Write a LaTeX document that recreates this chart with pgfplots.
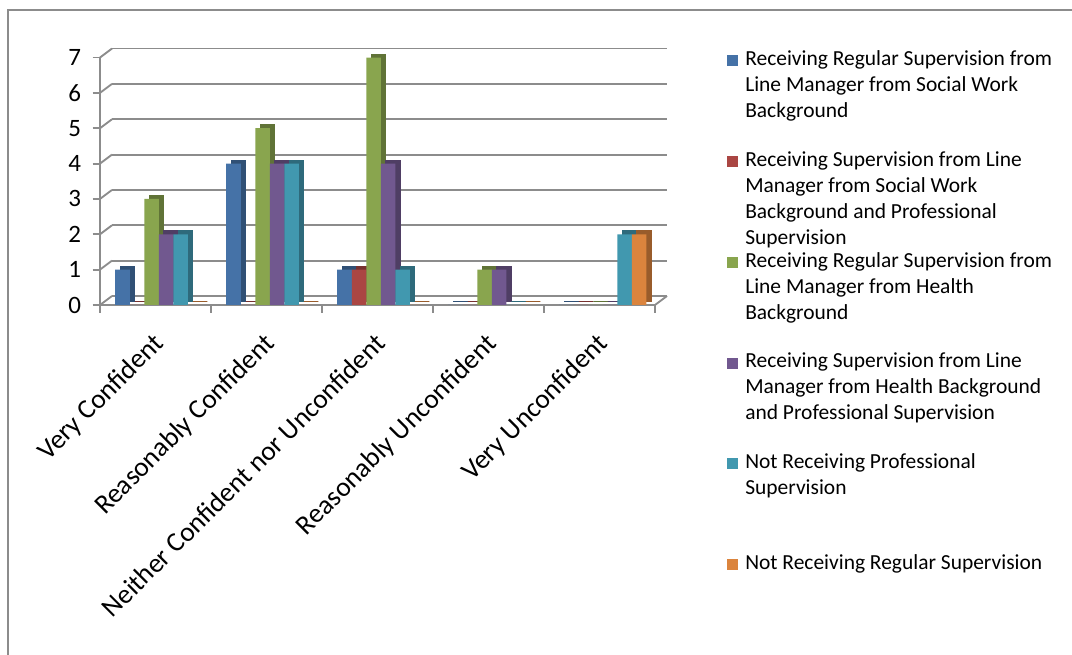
\documentclass[border=0pt]{standalone}
\usepackage{pgfplots}
\usepackage{pgfplotstable}
\pgfplotsset{compat=1.18}
\usepackage{fontspec}
\setmainfont{Carlito}
\definecolor{sBlue}{RGB}{69,114,167}
\definecolor{sRed}{RGB}{170,70,67}
\definecolor{sGreen}{RGB}{137,165,78}
\definecolor{sPurple}{RGB}{113,88,143}
\definecolor{sTeal}{RGB}{65,152,175}
\definecolor{sOrange}{RGB}{219,132,61}
\definecolor{gridc}{RGB}{140,140,140}
\newcommand{\LE}[1]{\parbox[t]{250pt}{\fontsize{16.1}{19.5}\selectfont\raggedright #1}}
\pgfplotstableread{
x s1 s2 s3 s4 s5 s6
0 1 0 3 2 2 0
1 4 0 5 4 4 0
2 1 1 7 4 1 0
3 0 0 1 1 0 0
4 0 0 0 0 2 2
}\datatable
\pgfplotsset{
  frontbar/.style={ybar, bar width=10.9pt, bar shift=#1, draw=none},
  backbar/.style 2 args={ybar, bar width=10.9pt, bar shift=#1, fill=#2!70!black, draw=#2!70!black, line width=0.7pt, xshift=3.75pt, yshift=2.5pt, forget plot},
}
\newcommand{\legentry}[3]{%
  \fill[#1] (545.25pt,#2-0.5pt) rectangle (553.5pt,#2+7.75pt);
  \node[anchor=base west, inner sep=0pt] at (558.75pt,#2) {\LE{#3}};
}
\begin{document}
\begin{tikzpicture}
\path[use as bounding box] (0,0) rectangle (804pt,491.25pt);
\draw[gridc, line width=1pt] (6pt,-5pt) -- (6pt,483.75pt) -- (812pt,483.75pt);
\begin{axis}[
  at={(75pt,262.5pt)}, anchor=south west,
  scale only axis, width=416.25pt, height=185.6pt,
  xmin=-0.5, xmax=4.5, ymin=0, ymax=7,
  clip=false,
  axis lines*=left,
  axis line style={gridc, line width=1.4pt},
  xtick={0,...,4},
  xticklabels={Very Confident, Reasonably Confident, Neither Confident nor Unconfident, Reasonably Unconfident, Very Unconfident},
  minor xtick={-0.5,0.5,1.5,2.5,3.5,4.5},
  ytick={0,...,7},
  tick align=outside,
  major tick length=5.6pt, minor tick length=6pt,
  every major x tick/.append style={draw=none},
  tick style={gridc, line width=1.4pt},
  /pgf/number format/assume math mode=true,
  yticklabel style={font=\fontsize{18.75}{20}\selectfont, xshift=-5pt},
  xticklabel style={font=\fontsize{20.5}{22}\selectfont, xshift=-3pt, yshift=-14pt, rotate=45, anchor=north east, inner sep=0pt},
]
\pgfplotsinvokeforeach{0,1,2,3,4,5,6,7}{
  \draw[gridc, line width=1.4pt] ([shift={(9pt,6.75pt)}]axis cs:-0.5,#1) -- ([shift={(9pt,6.75pt)}]axis cs:4.5,#1);
  \draw[gridc, line width=1.4pt] (axis cs:-0.5,#1) -- ([shift={(9pt,6.75pt)}]axis cs:-0.5,#1);
}
\draw[gridc, line width=1.4pt] (axis cs:4.5,0) -- ([shift={(9pt,6.75pt)}]axis cs:4.5,0);

\addplot[backbar={-24.75pt}{sBlue}] table[x=x,y=s1]{\datatable};
\addplot[frontbar={-24.75pt}, fill=sBlue] table[x=x,y=s1]{\datatable};
\addplot[backbar={-13.85pt}{sRed}] table[x=x,y=s2]{\datatable};
\addplot[frontbar={-13.85pt}, fill=sRed] table[x=x,y=s2]{\datatable};
\addplot[backbar={-2.95pt}{sGreen}] table[x=x,y=s3]{\datatable};
\addplot[frontbar={-2.95pt}, fill=sGreen] table[x=x,y=s3]{\datatable};
\addplot[backbar={7.95pt}{sPurple}] table[x=x,y=s4]{\datatable};
\addplot[frontbar={7.95pt}, fill=sPurple] table[x=x,y=s4]{\datatable};
\addplot[backbar={18.85pt}{sTeal}] table[x=x,y=s5]{\datatable};
\addplot[frontbar={18.85pt}, fill=sTeal] table[x=x,y=s5]{\datatable};
\addplot[backbar={29.75pt}{sOrange}] table[x=x,y=s6]{\datatable};
\addplot[frontbar={29.75pt}, fill=sOrange] table[x=x,y=s6]{\datatable};
\end{axis}
\legentry{sBlue}{442.1pt}{Receiving Regular Supervision from\\Line Manager from Social Work\\Background}
\legentry{sRed}{366.5pt}{Receiving Supervision from Line\\Manager from Social Work\\Background and Professional\\Supervision}
\legentry{sGreen}{290.9pt}{Receiving Regular Supervision from\\Line Manager from Health\\Background}
\legentry{sPurple}{215.3pt}{Receiving Supervision from Line\\Manager from Health Background\\and Professional Supervision}
\legentry{sTeal}{139.7pt}{Not Receiving Professional\\Supervision}
\legentry{sOrange}{64.1pt}{Not Receiving Regular Supervision}
\end{tikzpicture}
\end{document}
